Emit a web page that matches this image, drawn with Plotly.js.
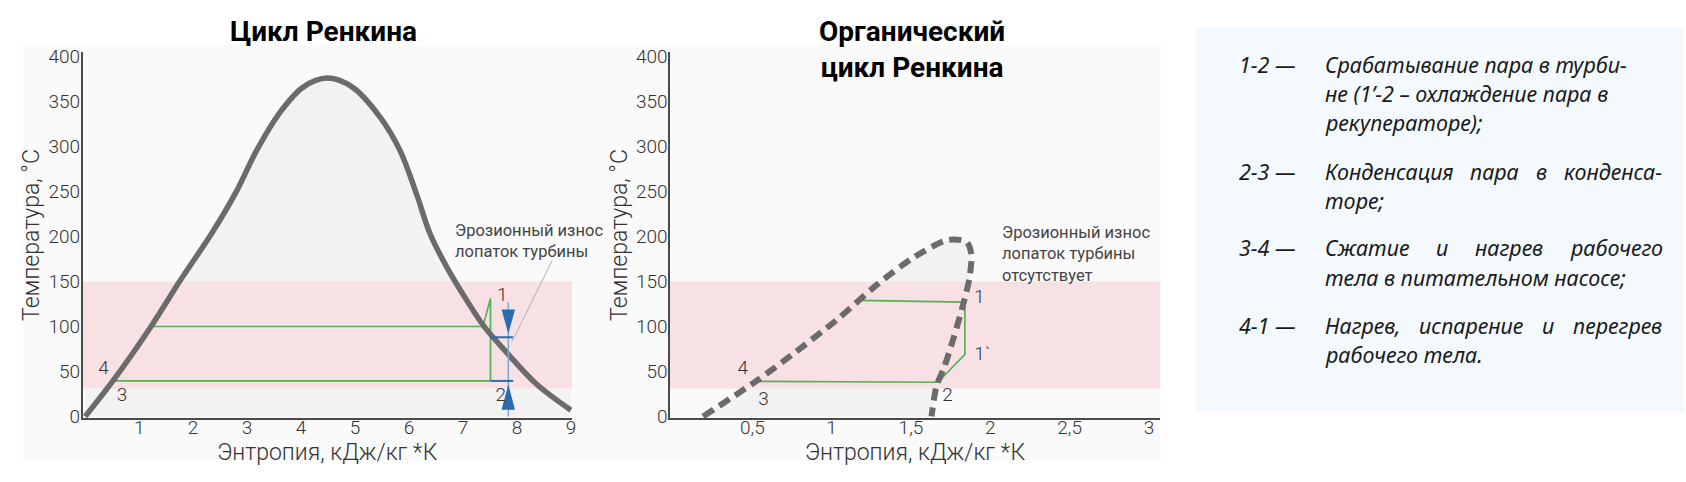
<!DOCTYPE html>
<html><head><meta charset="utf-8">
<script src="https://cdn.plot.ly/plotly-3.0.1.min.js"></script>
<style>html,body{margin:0;padding:0;background:#fff}#chart{width:1686px;height:482px}</style>
</head><body><div id="chart"></div>
<script>
// ---------- DATA ----------
// Chart 1: water (classic Rankine) saturation dome, s [kJ/kg*K] vs T [°C]
const waterS = [0, 0.52, 1.22, 1.76, 2.36, 2.81, 3.18, 3.61, 4.04, 4.48, 4.95, 5.46, 5.83, 6.14, 6.39, 6.70, 7.07, 7.38, 7.81, 8.36, 9.0];
const waterT = [0, 40, 100, 151, 205, 251, 296, 338, 366, 376, 366, 333, 296, 247, 203, 166, 129, 101, 71, 36, 7];
// Rankine cycle path: 4 -> 1 (heating, superheat), 1 -> 2 (turbine), 2 -> 3 (condenser)
const rankineS = [1.22, 7.37, 7.51, 7.51, 0.52];
const rankineT = [100, 100, 131, 39.5, 39.5];
// Wet-steam zone in turbine (erosion) dimension marker
const erosionS = 7.84;
const erosionTopT = 88;
const erosionBottomT = 39.5;
const erosionTickS = [7.51, 7.93];
const erosionLineT = [127, 0];
// leader line of the note
const leader1S = [8.65, 7.90];
const leader1T = [173, 82];
// point labels chart 1
const pts1Text = ['1', '2', '3', '4'];
const pts1S = [7.73, 7.70, 0.68, 0.34];
const pts1T = [134, 22, 22, 52];
const xTicks1 = [1, 2, 3, 4, 5, 6, 7, 8, 9];

// Chart 2: organic fluid saturation dome
const orcS = [0.19, 0.53, 0.76, 1.03, 1.29, 1.52, 1.73, 1.85, 1.88, 1.87, 1.83, 1.77, 1.71, 1.66, 1.63];
const orcT = [0, 40, 70, 107, 147, 177, 196, 194, 181, 155, 125, 88, 55, 33, 0];
// ORC path: 4 -> 1, 1 -> 1` (turbine), 1` -> 2 (recuperator), 2 -> 3
const orcCycleS = [1.17, 1.84, 1.84, 1.67, 0.53];
const orcCycleT = [129, 127, 69, 38, 39];
const pts2Text = ['1', '1`', '2', '3', '4'];
const pts2S = [1.93, 1.95, 1.73, 0.57, 0.44];
const pts2T = [131, 68, 23, 18, 52];
const xTicks2 = [0.5, 1, 1.5, 2, 2.5, 3];
const xTickText2 = ['0,5', '1', '1,5', '2', '2,5', '3'];

// Shared
const yTicks = [0, 50, 100, 150, 200, 250, 300, 350, 400];
const bandLow = 31, bandHigh = 150;   // highlighted temperature range

// Texts
const title1 = 'Цикл Ренкина';
const title2 = 'Органический<br>цикл Ренкина';
const xTitle = 'Энтропия, кДж/кг *К';
const yTitle = 'Температура, °C';
const note1 = 'Эрозионный износ<br>лопаток турбины';
const note2 = 'Эрозионный износ<br>лопаток турбины<br>отсутствует';
const legendKeys = ['1-2 —', '2-3 —', '3-4 —', '4-1 —'];
const legendLines = [
  ['Срабатывание пара в турби-', 'не (1’-2 – охлаждение пара в', 'рекуператоре);'],
  ['Конденсация пара в конденса-', 'торе;'],
  ['Сжатие и нагрев рабочего', 'тела в питательном насосе;'],
  ['Нагрев, испарение и перегрев', 'рабочего тела.']
];
const legendJustify = [[false, false, false], [true, false], [true, false], [true, false]];

// ---------- LAYOUT HELPERS ----------
const W = 1686, H = 482;
const px = v => v / W;
const py = v => 1 - v / H;

const X1 = [-0.05, 9.02], X2 = [-0.019, 3.07], Y = [-1.7, 405];
const GREY = '#6b6b6b', GREEN = '#55b153', PINK = '#f8e1e4', DOME = '#f2f2f2';
const BLUE = '#2b6cb0', LBLUE = '#7aa7d6';
const baseFont = {family: 'Roboto, sans-serif', color: '#333', weight: 300};

const traces = [];
// --- chart 1 ---
traces.push({x: waterS, y: waterT, xaxis: 'x', yaxis: 'y', mode: 'lines', fill: 'tozeroy', fillcolor: DOME,
  line: {width: 0, shape: 'spline', smoothing: 1}, hoverinfo: 'skip'});
traces.push({x: [X1[0], X1[1], X1[1], X1[0]], y: [bandLow, bandLow, bandHigh, bandHigh], xaxis: 'x', yaxis: 'y',
  mode: 'lines', fill: 'toself', fillcolor: PINK, line: {width: 0}, hoverinfo: 'skip'});
traces.push({x: rankineS, y: rankineT, xaxis: 'x', yaxis: 'y', mode: 'lines', line: {color: GREEN, width: 1.7}});
traces.push({x: waterS, y: waterT, xaxis: 'x', yaxis: 'y', mode: 'lines', line: {color: GREY, width: 5.5, shape: 'spline', smoothing: 1}});
traces.push({x: [erosionS, erosionS], y: erosionLineT, xaxis: 'x', yaxis: 'y', mode: 'lines', line: {color: LBLUE, width: 1.5}});
traces.push({x: erosionTickS, y: [erosionTopT, erosionTopT], xaxis: 'x', yaxis: 'y', mode: 'lines', line: {color: BLUE, width: 2}});
traces.push({x: erosionTickS, y: [erosionBottomT, erosionBottomT], xaxis: 'x', yaxis: 'y', mode: 'lines', line: {color: BLUE, width: 2}});
const aw = 0.125;
traces.push({x: [erosionS - aw, erosionS + aw, erosionS], y: [erosionTopT + 31, erosionTopT + 31, erosionTopT + 4],
  xaxis: 'x', yaxis: 'y', mode: 'lines', fill: 'toself', fillcolor: BLUE, line: {width: 0}});
traces.push({x: [erosionS - aw, erosionS + aw, erosionS], y: [erosionBottomT - 32, erosionBottomT - 32, erosionBottomT - 4],
  xaxis: 'x', yaxis: 'y', mode: 'lines', fill: 'toself', fillcolor: BLUE, line: {width: 0}});
traces.push({x: leader1S, y: leader1T, xaxis: 'x', yaxis: 'y', mode: 'lines', line: {color: '#b0b0b0', width: 1}});
traces.push({x: pts1S, y: pts1T, text: pts1Text, xaxis: 'x', yaxis: 'y', mode: 'text',
  textfont: Object.assign({}, baseFont, {size: 19})});
// --- chart 2 ---
traces.push({x: orcS, y: orcT, xaxis: 'x2', yaxis: 'y2', mode: 'lines', fill: 'toself', fillcolor: DOME,
  line: {width: 0, shape: 'spline', smoothing: 0.8}, hoverinfo: 'skip'});
traces.push({x: [X2[0], X2[1], X2[1], X2[0]], y: [bandLow, bandLow, bandHigh, bandHigh], xaxis: 'x2', yaxis: 'y2',
  mode: 'lines', fill: 'toself', fillcolor: PINK, line: {width: 0}, hoverinfo: 'skip'});
traces.push({x: orcCycleS, y: orcCycleT, xaxis: 'x2', yaxis: 'y2', mode: 'lines', line: {color: GREEN, width: 1.7}});
traces.push({x: orcS, y: orcT, xaxis: 'x2', yaxis: 'y2', mode: 'lines',
  line: {color: GREY, width: 6, dash: '12px,7px', shape: 'spline', smoothing: 0.8}});
traces.push({x: pts2S, y: pts2T, text: pts2Text, xaxis: 'x2', yaxis: 'y2', mode: 'text',
  textfont: Object.assign({}, baseFont, {size: 19})});

const axisCommon = {showgrid: false, zeroline: false, showline: true, linecolor: '#4a4a4a', linewidth: 1.6,
  ticks: '', tickfont: Object.assign({}, baseFont, {size: 19}), fixedrange: true};
const xTitleObj = {text: xTitle, font: Object.assign({}, baseFont, {size: 23}), standoff: 0};
const yTitleObj = {text: yTitle, font: Object.assign({}, baseFont, {size: 23}), standoff: 2};

const annotations = [];
const titleFont = {family: 'Roboto, sans-serif', size: 28, weight: 700, color: '#000'};
annotations.push({xref: 'paper', yref: 'paper', x: px(323), y: py(32), text: title1, showarrow: false,
  xanchor: 'center', yanchor: 'middle', font: titleFont});
annotations.push({xref: 'paper', yref: 'paper', x: px(912), y: py(50), text: title2, showarrow: false,
  xanchor: 'center', yanchor: 'middle', font: titleFont});
annotations.push({xref: 'x', yref: 'y', x: 6.81, y: 195, text: note1, showarrow: false, xanchor: 'left', yanchor: 'middle',
  align: 'left', font: Object.assign({}, baseFont, {size: 16.5, color: '#444', weight: 400})});
annotations.push({xref: 'x2', yref: 'y2', x: 2.06, y: 181, text: note2, showarrow: false, xanchor: 'left', yanchor: 'middle',
  align: 'left', font: Object.assign({}, baseFont, {size: 16.5, color: '#444', weight: 400})});

// Legend box text (justified lines measured with canvas)
const legFamily = 'Noto Sans';
const legSize = 21.5;
const cv = document.createElement('canvas').getContext('2d');
cv.font = 'italic ' + legSize + 'px "' + legFamily + '"';
const legFont = {family: legFamily, size: legSize, style: 'italic', color: '#1a1a1a'};
const textLeft = 1323, textRight = 1660, keyLeft = 1237;
let lineCount = 0;
legendLines.forEach((lines, i) => {
  lines.forEach((ln, j) => {
    const yy = 65 + lineCount * 29 + i * 19;
    if (j === 0) {
      annotations.push({xref: 'paper', yref: 'paper', x: px(keyLeft), y: py(yy), text: legendKeys[i], showarrow: false,
        xanchor: 'left', yanchor: 'middle', font: legFont});
    }
    if (legendJustify[i][j]) {
      const words = ln.split(' ');
      const ws = words.map(w => cv.measureText(w).width);
      const total = ws.reduce((a, b) => a + b, 0);
      const gap = (textRight - textLeft - total) / (words.length - 1);
      let xx = textLeft;
      words.forEach((w, k) => {
        annotations.push({xref: 'paper', yref: 'paper', x: px(xx), y: py(yy), text: w, showarrow: false,
          xanchor: 'left', yanchor: 'middle', font: legFont});
        xx += ws[k] + gap;
      });
    } else {
      annotations.push({xref: 'paper', yref: 'paper', x: px(textLeft), y: py(yy), text: ln, showarrow: false,
        xanchor: 'left', yanchor: 'middle', font: legFont});
    }
    lineCount++;
  });
});

const shapes = [
  {type: 'rect', xref: 'paper', yref: 'paper', x0: px(23), x1: px(1161), y0: py(460), y1: py(45),
    fillcolor: '#fafafa', line: {width: 0}, layer: 'below'},
  {type: 'rect', xref: 'paper', yref: 'paper', x0: px(1196), x1: px(1684), y0: py(412), y1: py(27),
    fillcolor: '#f4f9fe', line: {width: 0}, layer: 'below'},
  {type: 'rect', xref: 'x', yref: 'y', x0: 0, x1: 9, y0: 0, y1: bandLow,
    fillcolor: DOME, line: {width: 0}, layer: 'below'}
];

const layout = {
  width: W, height: H, margin: {l: 0, r: 0, t: 0, b: 0}, showlegend: false,
  paper_bgcolor: '#ffffff', plot_bgcolor: 'rgba(0,0,0,0)',
  xaxis: Object.assign({}, axisCommon, {domain: [px(82.5), px(572)], range: X1, tickvals: xTicks1, anchor: 'y', title: xTitleObj, ticklabelstandoff: -8}),
  yaxis: Object.assign({}, axisCommon, {domain: [py(418), py(52)], range: Y, tickvals: yTicks, anchor: 'x', title: yTitleObj, ticklabelstandoff: -3}),
  xaxis2: Object.assign({}, axisCommon, {domain: [px(670), px(1160)], range: X2, tickvals: xTicks2, ticktext: xTickText2, anchor: 'y2', title: xTitleObj, ticklabelstandoff: -8}),
  yaxis2: Object.assign({}, axisCommon, {domain: [py(418), py(52)], range: Y, tickvals: yTicks, anchor: 'x2', title: yTitleObj, ticklabelstandoff: -3}),
  annotations: annotations, shapes: shapes
};

Plotly.newPlot('chart', traces, layout, {displayModeBar: false, staticPlot: true});
</script></body></html>
